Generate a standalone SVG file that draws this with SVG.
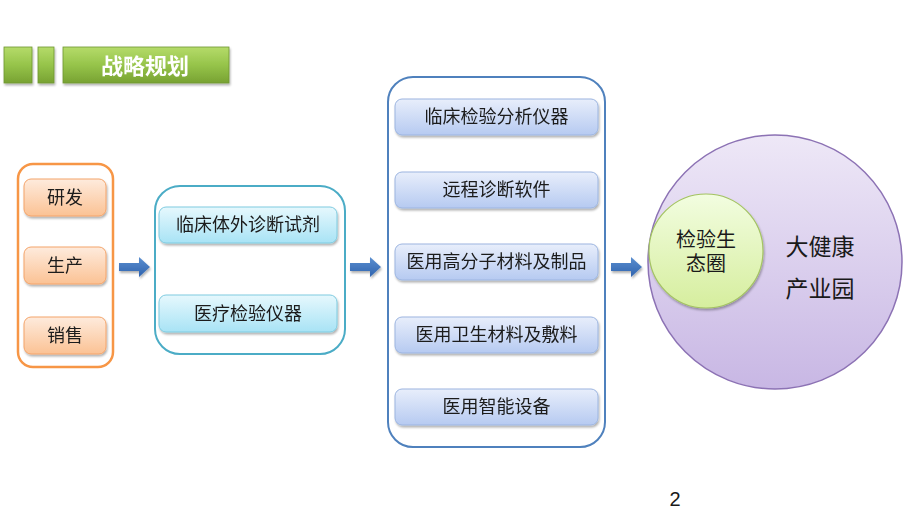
<svg xmlns="http://www.w3.org/2000/svg" width="920" height="518" viewBox="0 0 920 518">
<defs>
<linearGradient id="gGreen" x1="0" y1="0" x2="0" y2="1"><stop offset="0" stop-color="#B5DB6A"/><stop offset="0.5" stop-color="#96C44A"/><stop offset="1" stop-color="#78A232"/></linearGradient>
<linearGradient id="gOrange" x1="0" y1="0" x2="0" y2="1"><stop offset="0" stop-color="#FEEBDD"/><stop offset="1" stop-color="#FBC294"/></linearGradient>
<linearGradient id="gTeal" x1="0" y1="0" x2="0" y2="1"><stop offset="0" stop-color="#E6F8FD"/><stop offset="1" stop-color="#A8E3F5"/></linearGradient>
<linearGradient id="gBlue" x1="0" y1="0" x2="0" y2="1"><stop offset="0" stop-color="#E8EEFB"/><stop offset="1" stop-color="#B6CAF1"/></linearGradient>
<linearGradient id="gPurple" x1="0" y1="0" x2="0" y2="1"><stop offset="0" stop-color="#EEE8F7"/><stop offset="1" stop-color="#C8B7E4"/></linearGradient>
<linearGradient id="gLime" x1="0" y1="0" x2="0" y2="1"><stop offset="0" stop-color="#F2FDE0"/><stop offset="1" stop-color="#D6EE9E"/></linearGradient>
<linearGradient id="gArrow" x1="0" y1="0" x2="0" y2="1"><stop offset="0" stop-color="#5B8FD0"/><stop offset="1" stop-color="#2F63AE"/></linearGradient>
<filter id="sh" x="-10%" y="-20%" width="120%" height="150%"><feDropShadow dx="1" dy="2" stdDeviation="1.2" flood-color="#000" flood-opacity="0.3"/></filter>
<path id="arrow" d="M0,4 H20 V-2 L31,8 L20,18 V12 H0 Z"/>
</defs>
<style>
text{font-family:"Liberation Sans","Noto Sans CJK SC",sans-serif;fill:#1a1a1a;text-anchor:middle;dominant-baseline:central}
.lab{font-size:18px}
.ob{fill:url(#gOrange);stroke:#F4A46A;stroke-width:1}
.tb{fill:url(#gTeal);stroke:#7FCBE0;stroke-width:1}
.bb{fill:url(#gBlue);stroke:#9CB5E0;stroke-width:1}
.hd{fill:url(#gGreen);stroke:#6E9630;stroke-width:0.8}
</style>
<g id="header" filter="url(#sh)">
<rect class="hd" x="4" y="47" width="28" height="36"/>
<rect class="hd" x="38" y="47" width="16" height="36"/>
<rect class="hd" x="63" y="47" width="166" height="36"/>
<text x="145" y="66" style="font-size:22px;font-weight:bold;fill:#fff">战略规划</text>
</g>
<g id="group1">
<rect x="18" y="164" width="95" height="203" rx="15" fill="#fff" stroke="#F79646" stroke-width="2.5"/>
<g id="n-yanfa" filter="url(#sh)"><rect class="ob" x="24" y="179" width="82" height="37" rx="7"/><text class="lab" x="65" y="197.5">研发</text></g>
<g id="n-shengchan" filter="url(#sh)"><rect class="ob" x="24" y="247" width="82" height="37" rx="7"/><text class="lab" x="65" y="265.5">生产</text></g>
<g id="n-xiaoshou" filter="url(#sh)"><rect class="ob" x="24" y="317" width="82" height="37" rx="7"/><text class="lab" x="65" y="335.5">销售</text></g>
</g>
<g id="group2">
<rect x="155" y="186" width="190" height="168" rx="25" fill="#fff" stroke="#4BACC6" stroke-width="2"/>
<g id="n-ivd" filter="url(#sh)"><rect class="tb" x="159" y="207" width="178" height="36" rx="7"/><text class="lab" x="248" y="225">临床体外诊断试剂</text></g>
<g id="n-yiqi" filter="url(#sh)"><rect class="tb" x="159" y="295" width="178" height="37" rx="7"/><text class="lab" x="248" y="313.5">医疗检验仪器</text></g>
</g>
<g id="group3">
<rect x="388" y="77" width="217" height="370" rx="25" fill="#fff" stroke="#4F81BD" stroke-width="2"/>
<g id="n-b1" filter="url(#sh)"><rect class="bb" x="395" y="99" width="203" height="36" rx="7"/><text class="lab" x="496.5" y="117">临床检验分析仪器</text></g>
<g id="n-b2" filter="url(#sh)"><rect class="bb" x="395" y="172" width="203" height="36" rx="7"/><text class="lab" x="496.5" y="190">远程诊断软件</text></g>
<g id="n-b3" filter="url(#sh)"><rect class="bb" x="395" y="244" width="203" height="36" rx="7"/><text class="lab" x="496.5" y="262">医用高分子材料及制品</text></g>
<g id="n-b4" filter="url(#sh)"><rect class="bb" x="395" y="317" width="203" height="36" rx="7"/><text class="lab" x="496.5" y="335">医用卫生材料及敷料</text></g>
<g id="n-b5" filter="url(#sh)"><rect class="bb" x="395" y="389" width="203" height="36" rx="7"/><text class="lab" x="496.5" y="407">医用智能设备</text></g>
</g>
<g id="n-park">
<circle cx="775" cy="262" r="127" fill="url(#gPurple)" stroke="#8C72B4" stroke-width="1.5"/>
<text x="820" y="247" style="font-size:23px">大健康</text>
<text x="820" y="289" style="font-size:23px">产业园</text>
</g>
<g id="n-eco">
<circle cx="706" cy="251" r="57" fill="url(#gLime)" stroke="#A4C462" stroke-width="1.2" filter="url(#sh)"/>
<text x="706" y="240" style="font-size:20px">检验生</text>
<text x="706" y="264" style="font-size:20px">态圈</text>
</g>
<g id="connectors" fill="url(#gArrow)" filter="url(#sh)">
<use href="#arrow" x="119" y="259"/>
<use href="#arrow" x="350" y="259"/>
<use href="#arrow" x="611" y="259"/>
</g>
<text x="675" y="499" style="font-size:20px">2</text>
</svg>
